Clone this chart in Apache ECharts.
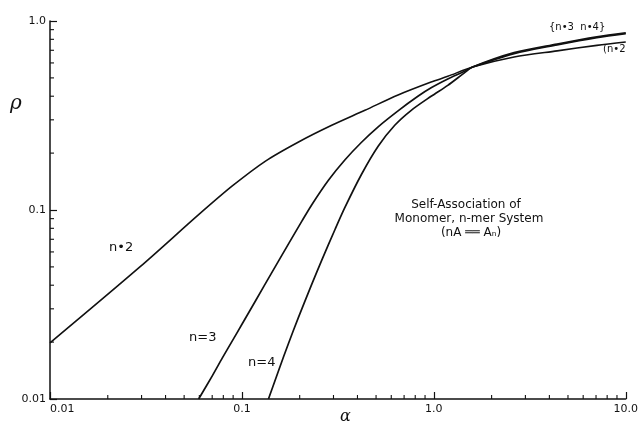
<!DOCTYPE html>
<html>
<head>
<meta charset="utf-8">
<script src="https://cdn.jsdelivr.net/npm/echarts@6/dist/echarts.min.js"></script>
<style>
html,body{margin:0;padding:0;background:#fff;}
#chart{width:641px;height:425px;}
</style>
</head>
<body>
<div id="chart"></div>
<script>
// ---- data ----
const alphaN2 = [0.0100, 0.0293, 0.0599, 0.0891, 0.1327, 0.1973, 0.2937, 0.4375, 0.651, 0.968, 1.182, 1.592, 2.619, 4.39, 7.07, 10.0];
const rhoN2   = [0.0198, 0.0498, 0.0950, 0.1340, 0.1815, 0.2291, 0.2807, 0.3369, 0.406, 0.4753, 0.5096, 0.5705, 0.6445, 0.695, 0.743, 0.774];

const alphaN3 = [0.0595, 0.0702, 0.0791, 0.0891, 0.1004, 0.1178, 0.1436, 0.1752, 0.2053, 0.2313, 0.2823, 0.3446, 0.4201, 0.5127, 0.651, 0.826, 0.968, 1.182, 1.443, 1.592, 2.619, 4.39, 7.07, 10.0];
const rhoN3   = [0.0100, 0.0133, 0.0165, 0.0203, 0.0250, 0.0331, 0.0469, 0.0664, 0.0873, 0.1067, 0.1437, 0.1845, 0.2283, 0.2756, 0.3347, 0.3995, 0.4430, 0.4932, 0.5417, 0.5705, 0.672, 0.7475, 0.816, 0.857];

const alphaN4 = [0.1375, 0.1555, 0.1752, 0.1973, 0.2313, 0.2607, 0.3059, 0.3446, 0.4201, 0.5127, 0.6257, 0.7628, 0.968, 1.182, 1.443, 1.592, 2.619, 4.39, 7.07, 10.0];
const rhoN4   = [0.0100, 0.0142, 0.0198, 0.0271, 0.0405, 0.0543, 0.0791, 0.1035, 0.1546, 0.2174, 0.2807, 0.3369, 0.3995, 0.4566, 0.5318, 0.5705, 0.680, 0.755, 0.824, 0.866];

const xTickValues = [0.01, 0.1, 1, 10];
const xTickLabels = ['0.01', '0.1', '1.0', '10.0'];
const yTickValues = [0.01, 0.1, 1];
const yTickLabels = ['0.01', '0.1', '1.0'];

const xMinorTicks = [0.02,0.03,0.04,0.05,0.06,0.07,0.08,0.09, 0.2,0.3,0.4,0.5,0.6,0.7,0.8,0.9, 2,3,4,5,6,7,8,9];
const yMinorTicks = [0.02,0.03,0.04,0.05,0.06,0.07,0.08,0.09, 0.2,0.3,0.4,0.5,0.6,0.7,0.8,0.9];

// ---- chart ----
const INK = '#111';
const FONT = 'DejaVu Sans';
function pair(xs, ys){ return xs.map((x,i)=>[x, ys[i]]); }
function labelFor(values, labels){
  return function(v){
    for (let i=0;i<values.length;i++){ if (Math.abs(Math.log10(v)-Math.log10(values[i]))<1e-6) return labels[i]; }
    return '';
  };
}

const chart = echarts.init(document.getElementById('chart'), null, {renderer:'canvas'});

const lineBase = {
  type:'line', showSymbol:false, smooth:0.3,
  lineStyle:{color:INK, width:1.6, join:'round'}, itemStyle:{color:INK}, silent:true, z:3
};

function tickSeries(values, vertical){
  return {
    type:'custom', coordinateSystem:'cartesian2d', silent:true, clip:false, z:10,
    encode:{x:0, y:1},
    data: values.map(v => vertical ? [v, 0.01] : [0.01, v]),
    renderItem:function(params, api){
      const p = api.coord([api.value(0), api.value(1)]);
      const shape = vertical ? {x1:p[0], y1:p[1], x2:p[0], y2:p[1]-4}
                             : {x1:p[0], y1:p[1], x2:p[0]+4, y2:p[1]};
      return {type:'line', shape:shape, style:{stroke:INK, lineWidth:1.1}};
    }
  };
}

chart.setOption({
  animation:false,
  backgroundColor:'#fff',
  grid:{left:50, right:13, top:21, bottom:26},
  xAxis:{
    type:'log', logBase:10, min:0.01, max:10,
    axisLine:{show:true, lineStyle:{color:INK, width:1.5}},
    axisTick:{show:true, inside:true, length:7, lineStyle:{color:INK, width:1.2}},
    axisLabel:{show:true, margin:5, color:INK, fontFamily:FONT, fontSize:11, alignMinLabel:'left', formatter:labelFor(xTickValues, xTickLabels), showMinLabel:true, showMaxLabel:true},
    splitLine:{show:false}
  },
  yAxis:{
    type:'log', logBase:10, min:0.01, max:1,
    axisLine:{show:true, lineStyle:{color:INK, width:1.5}},
    axisTick:{show:true, inside:true, length:7, lineStyle:{color:INK, width:1.2}},
    axisLabel:{show:true, margin:4, color:INK, fontFamily:FONT, fontSize:11, formatter:labelFor(yTickValues, yTickLabels), showMinLabel:true, showMaxLabel:true},
    splitLine:{show:false}
  },
  series:[
    Object.assign({}, lineBase, {name:'n=2', data:pair(alphaN2, rhoN2)}),
    Object.assign({}, lineBase, {name:'n=3', data:pair(alphaN3, rhoN3), lineStyle:{color:INK, width:1.7, join:'round'}}),
    Object.assign({}, lineBase, {name:'n=4', data:pair(alphaN4, rhoN4), lineStyle:{color:INK, width:1.7, join:'round'}}),
    tickSeries(xMinorTicks, true),
    tickSeries(yMinorTicks, false)
  ],
  graphic:[
    {type:'text', left:10, top:94, style:{text:'ρ', fill:INK, font:'italic 20px "DejaVu Serif"'}},
    {type:'text', left:340, top:409, style:{text:'α', fill:INK, font:'italic 16px "DejaVu Serif"'}},
    {type:'text', left:109, top:241, style:{text:'n•2', fill:INK, font:'13px "DejaVu Sans"'}},
    {type:'text', left:189, top:331, style:{text:'n=3', fill:INK, font:'13px "DejaVu Sans"'}},
    {type:'text', left:248, top:356, style:{text:'n=4', fill:INK, font:'13px "DejaVu Sans"'}},
    {type:'text', x:466, y:199, style:{text:'Self-Association of', fill:INK, font:'12px "DejaVu Sans"', textAlign:'center'}},
    {type:'text', x:469, y:213, style:{text:'Monomer, n-mer System', fill:INK, font:'12px "DejaVu Sans"', textAlign:'center'}},
    {type:'text', x:471, y:227, style:{text:'(nA ══ Aₙ)', fill:INK, font:'12px "DejaVu Sans"', textAlign:'center'}},
    {type:'text', left:549, top:22, style:{text:'{n•3  n•4}', fill:INK, font:'10px "DejaVu Sans"'}},
    {type:'text', left:603, top:44, style:{text:'(n•2', fill:INK, font:'10px "DejaVu Sans"'}}
  ]
});
</script>
</body>
</html>
